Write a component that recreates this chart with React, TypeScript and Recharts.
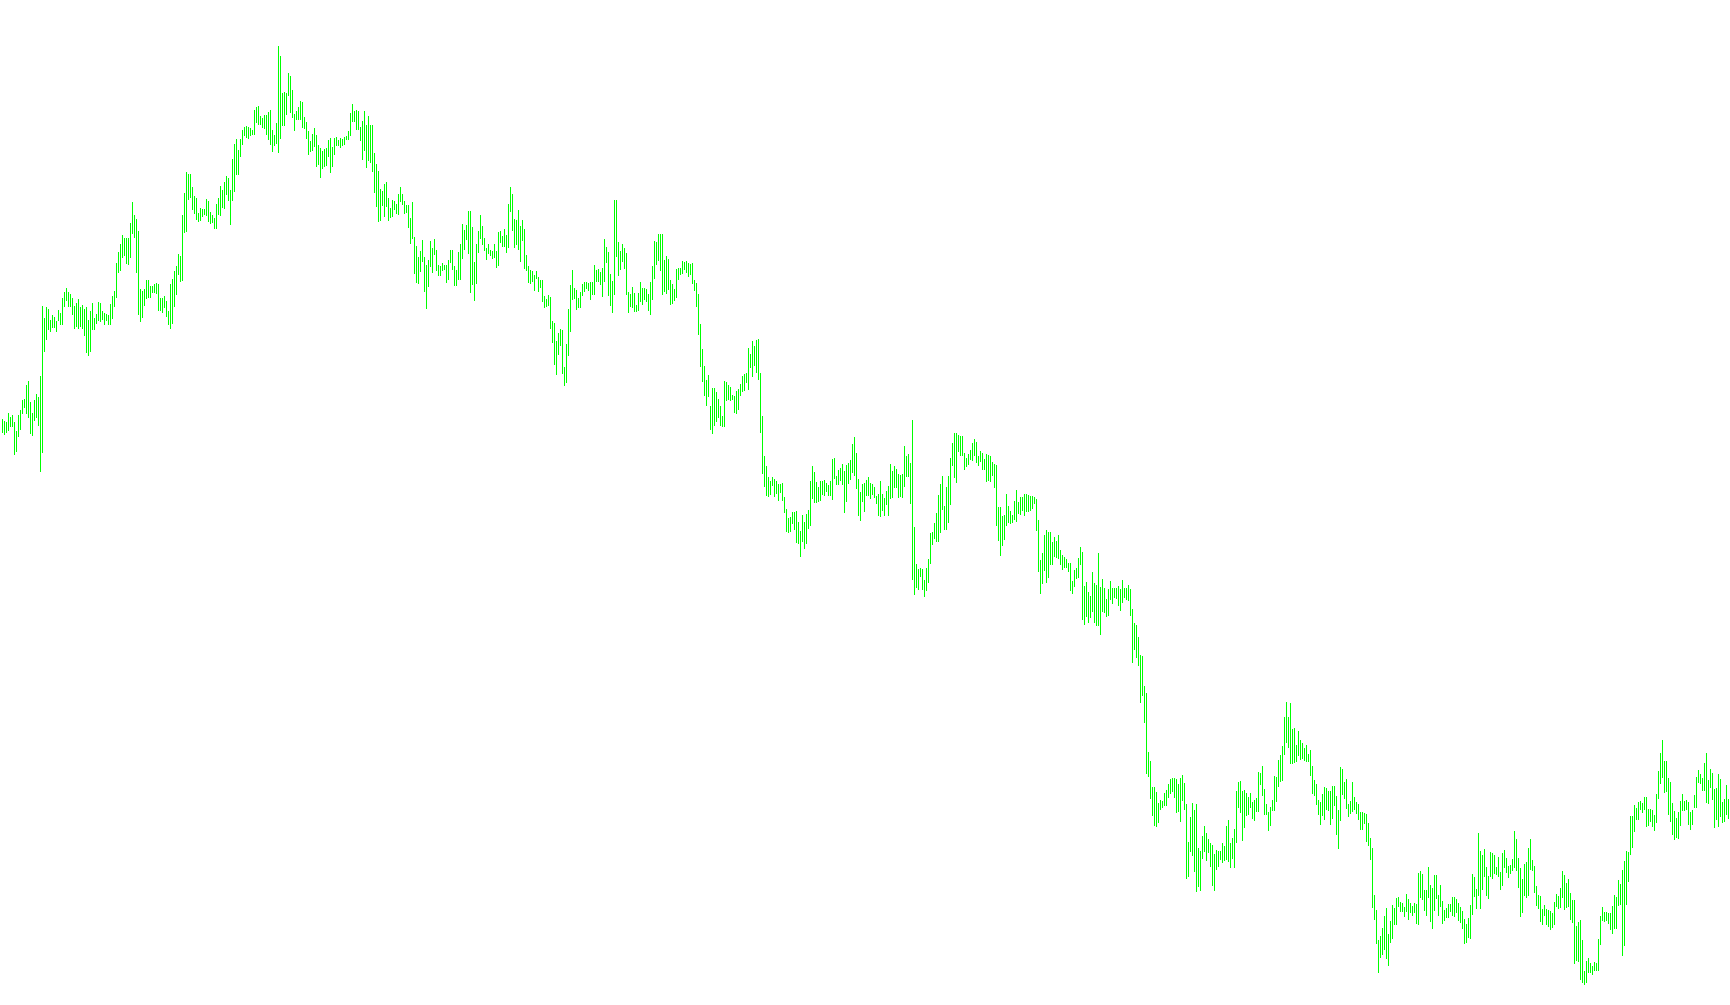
import { BarChart, Bar, XAxis, YAxis } from 'recharts';

// bar highs, read left to right (one bar every 2px)
const high = [
  586, 584, 583, 592, 588, 590, 583, 574, 590, 595, 605, 606, 620, 624, 603, 592, 605, 611, 608, 629,
  699, 687, 698, 696, 685, 690, 688, 684, 695, 692, 707, 713, 717, 713, 711, 707, 699, 702, 706, 698,
  700, 696, 698, 685, 694, 702, 687, 691, 703, 702, 694, 692, 691, 690, 701, 709, 714, 742, 753, 761,
  770, 767, 767, 767, 782, 803, 790, 786, 774, 716, 714, 716, 725, 725, 719, 719, 721, 722, 721, 707,
  707, 709, 704, 694, 721, 726, 734, 739, 751, 749, 790, 812, 833, 831, 831, 818, 809, 807, 792, 797,
  796, 796, 806, 804, 793, 790, 787, 801,
  807, 819, 815, 823, 829, 827, 815, 846, 861, 866, 855, 866, 875, 878, 879, 878, 877, 875, 895, 898,
  899, 889, 887, 890, 890, 893, 895, 875, 870, 882, 959, 949, 912, 913, 912, 932, 929, 915, 891, 894,
  898, 904, 903, 888, 883, 874, 864, 871, 877, 870, 860, 857, 854, 856, 857, 865, 867, 858, 867, 868,
  865, 867, 866, 868, 869, 874, 892, 901, 894, 895, 894, 878, 884, 894, 880, 889, 880, 880, 852, 841,
  834, 816, 814, 821, 823, 807, 797, 805, 804, 801, 811, 818, 811, 804, 800, 800, 787, 803, 768, 759,
  748, 754, 765, 748, 740, 745, 764, 757,
  766, 755, 740, 739, 742, 740, 740, 745, 755, 755, 739, 735, 753, 761, 781, 775, 780, 794, 794, 778,
  743, 761, 774, 790, 779, 767, 757, 761, 755, 754, 761, 754, 773, 774, 769, 776, 770, 801, 818, 811,
  786, 785, 795, 779, 785, 776, 750, 739, 735, 734, 730, 734, 728, 725, 725, 709, 706, 710, 708, 684,
  682, 664, 672, 676, 675, 638, 661, 696, 720, 735, 717, 715, 707, 713, 721, 723, 723, 722, 723, 723,
  740, 735, 736, 733, 737, 766, 758, 753, 731, 724, 805, 805, 763, 754, 761, 757, 752, 713, 711, 718,
  712, 700, 712, 723, 717, 717, 716, 711,
  723, 739, 764, 763, 771, 771, 771, 745, 749, 746, 725, 721, 716, 736, 737, 737, 744, 743, 744, 742,
  741, 742, 725, 722, 711, 681, 656, 639, 625, 630, 599, 617, 617, 613, 606, 599, 589, 624, 623, 620,
  618, 610, 609, 614, 616, 621, 629, 631, 632, 657, 651, 664, 659, 665, 666, 632, 589, 549, 539, 528,
  524, 528, 526, 524, 521, 521, 522, 508, 496, 487, 488, 493, 493, 494, 483, 474, 490, 483, 491, 495,
  524, 539, 533, 523, 518, 524, 524, 525, 522, 520, 524, 546, 547, 529, 535, 537, 541, 534, 540, 542,
  545, 561, 568, 552, 526, 513, 521, 522,
  525, 528, 522, 521, 518, 509, 511, 524, 511, 507, 514, 519, 541, 534, 539, 536, 531, 530, 531, 559,
  549, 551, 542, 585, 478, 441, 436, 437, 436, 425, 437, 446, 472, 473, 482, 492, 510, 521, 529, 499,
  518, 529, 547, 562, 572, 572, 570, 569, 569, 552, 547, 551, 555, 562, 566, 563, 549, 554, 552, 546,
  551, 550, 549, 543, 541, 540, 498, 498, 489, 490, 511, 499, 494, 490, 504, 515, 503, 508, 508, 511,
  511, 510, 509, 509, 508, 506, 485, 445, 452, 470, 475, 473, 473, 463, 468, 464, 470, 455, 450, 448,
  446, 442, 442, 424, 435, 437, 447, 458,
  453, 419, 423, 413, 409, 433, 422, 420, 452, 418, 426, 417, 406, 416, 424, 417, 417, 417, 419, 416,
  425, 417, 417, 420, 416, 396, 382, 380, 368, 350, 349, 319, 312, 253, 244, 218, 218, 213, 202, 205,
  204, 212, 215, 221, 226, 227, 227, 226, 221, 227, 230, 222, 201, 163, 188, 202, 195, 201, 157, 154,
  169, 179, 172, 166, 162, 160, 151, 155, 154, 154, 162, 159, 179, 185, 162, 167, 176, 214, 223, 224,
  214, 215, 212, 208, 212, 203, 205, 207, 233, 232, 239, 216, 201, 193, 198, 205, 229, 228, 245, 250,
  259, 288, 303, 288, 302, 276, 277, 260,
  274, 265, 262, 257, 260, 251, 255, 239, 225, 221, 205, 203, 211, 218, 217, 214, 214, 219, 219, 209,
  195, 238, 236, 223, 226, 201, 204, 223, 208, 203, 201, 193, 193, 192, 191, 182, 167, 157, 110, 95,
  65, 69, 77, 89, 97, 71, 84, 100, 97, 107, 108, 103, 102, 98, 111, 106, 102, 99, 102, 101,
  132, 134, 131, 115, 115, 138, 120, 117, 130, 130, 110, 120, 104, 95, 97, 101, 101, 108, 108, 106,
  102, 98, 94, 86, 81, 87, 100, 131, 128, 116, 172, 154, 150, 156, 138, 129, 153, 152, 150, 138,
  148, 133, 152, 155, 147, 139, 140, 146,
  174, 166, 147, 137, 126, 141, 143, 157, 166, 145, 139, 119, 110, 109, 96, 100, 96, 95, 94, 92,
  103, 111, 109, 117, 134, 130, 122, 126, 112, 105, 105, 79, 83, 85, 65, 34, 44, 47, 42, 39,
  43, 42, 66, 89, 98, 93, 93, 92, 92, 99, 110, 108, 125, 121, 135, 144, 154, 153, 189, 189,
  200, 197, 203, 204, 202, 208, 208, 196, 196, 195, 190, 211, 234, 252, 265, 244, 244, 227, 223, 202,
  194, 187, 193, 204, 211, 204, 205, 203, 193, 195, 210, 228, 235, 231, 227, 242, 252, 225, 236, 232,
  216, 217, 231, 226, 203, 206, 220, 206, 220,
];

// bar lows, same order
const low = [
  573, 571, 573, 575, 579, 579, 551, 554, 569, 576, 592, 598, 592, 588, 572, 570, 585, 588, 580, 534,
  553, 654, 666, 676, 674, 678, 678, 674, 685, 681, 681, 699, 705, 699, 699, 691, 677, 679, 677, 679,
  677, 670, 653, 650, 654, 676, 676, 682, 685, 684, 686, 681, 685, 681, 681, 687, 699, 708, 733, 735,
  748, 750, 742, 741, 748, 772, 768, 733, 691, 684, 688, 700, 707, 708, 708, 713, 713, 712, 695, 695,
  693, 698, 689, 681, 677, 682, 699, 711, 731, 724, 725, 773, 774, 806, 808, 796, 792, 786, 784, 785,
  789, 791, 790, 784, 782, 783, 777, 777,
  791, 790, 798, 797, 811, 805, 781, 805, 814, 831, 831, 849, 861, 870, 868, 867, 870, 871, 871, 883,
  881, 881, 878, 877, 871, 866, 861, 854, 860, 862, 853, 867, 880, 880, 891, 910, 893, 888, 875, 886,
  886, 886, 878, 877, 867, 851, 854, 855, 859, 839, 841, 828, 837, 839, 840, 849, 833, 839, 851, 860,
  860, 858, 860, 861, 866, 866, 870, 884, 884, 876, 876, 865, 846, 855, 838, 845, 843, 834, 813, 799,
  784, 785, 800, 789, 799, 785, 788, 789, 796, 792, 791, 804, 801, 792, 793, 778, 762, 767, 732, 723,
  722, 734, 744, 714, 697, 719, 739, 733,
  751, 735, 730, 730, 735, 736, 723, 726, 743, 736, 720, 720, 726, 726, 747, 756, 766, 752, 713, 721,
  705, 722, 753, 767, 761, 755, 746, 752, 750, 747, 748, 738, 740, 763, 759, 759, 753, 758, 794, 775,
  758, 761, 756, 744, 765, 737, 735, 723, 722, 724, 715, 727, 714, 718, 704, 698, 699, 700, 677, 663,
  641, 631, 651, 660, 632, 620, 623, 650, 674, 706, 707, 696, 698, 698, 710, 714, 717, 715, 706, 711,
  711, 724, 724, 721, 709, 724, 743, 710, 700, 693, 711, 749, 730, 736, 744, 737, 711, 693, 699, 698,
  694, 694, 695, 704, 701, 706, 704, 695,
  691, 706, 727, 741, 745, 735, 711, 714, 712, 716, 701, 702, 705, 708, 726, 731, 732, 736, 733, 729,
  731, 722, 715, 699, 671, 639, 624, 610, 600, 609, 576, 572, 580, 584, 588, 580, 579, 579, 605, 606,
  605, 606, 593, 592, 596, 610, 614, 615, 623, 616, 638, 629, 640, 633, 626, 573, 532, 519, 510, 509,
  511, 520, 509, 512, 505, 513, 505, 493, 474, 473, 474, 482, 476, 463, 462, 449, 464, 457, 462, 477,
  480, 507, 503, 503, 504, 505, 511, 510, 514, 510, 510, 506, 527, 521, 521, 525, 521, 493, 504, 522,
  526, 533, 530, 517, 490, 485, 504, 494,
  510, 510, 507, 511, 508, 502, 490, 489, 495, 490, 501, 490, 507, 508, 518, 518, 508, 509, 508, 519,
  529, 529, 502, 426, 411, 418, 416, 429, 416, 409, 415, 423, 442, 461, 467, 464, 464, 473, 496, 476,
  476, 483, 501, 540, 528, 523, 554, 550, 550, 536, 539, 541, 546, 545, 550, 543, 540, 544, 536, 536,
  524, 525, 524, 530, 518, 480, 465, 450, 460, 466, 480, 483, 482, 483, 486, 484, 492, 491, 495, 490,
  494, 494, 495, 497, 502, 475, 434, 412, 422, 435, 423, 428, 441, 441, 449, 448, 447, 441, 436, 438,
  438, 434, 415, 412, 419, 427, 428, 441,
  386, 381, 389, 383, 388, 394, 383, 380, 380, 371, 394, 393, 389, 390, 406, 402, 408, 407, 400, 395,
  403, 408, 406, 405, 390, 343, 356, 348, 340, 303, 310, 283, 232, 229, 207, 190, 180, 179, 183, 196,
  198, 200, 200, 208, 212, 214, 208, 193, 194, 184, 205, 196, 127, 129, 154, 150, 134, 114, 119, 115,
  147, 154, 145, 153, 139, 120, 115, 136, 139, 146, 143, 145, 146, 144, 138, 147, 138, 163, 198, 193,
  165, 178, 190, 191, 198, 187, 185, 194, 194, 221, 210, 191, 191, 175, 180, 195, 195, 204, 219, 224,
  225, 251, 263, 258, 242, 242, 243, 244,
  250, 246, 247, 245, 244, 244, 230, 212, 210, 201, 191, 181, 190, 186, 196, 195, 181, 187, 200, 171,
  157, 185, 211, 207, 197, 189, 192, 194, 196, 192, 186, 176, 176, 182, 164, 160, 146, 98, 86, 62,
  33, 48, 51, 56, 47, 40, 63, 67, 81, 81, 99, 94, 94, 89, 94, 86, 93, 90, 93, 82,
  81, 108, 106, 95, 90, 108, 84, 77, 95, 107, 90, 99, 82, 85, 88, 88, 94, 90, 89, 93,
  85, 83, 77, 62, 63, 68, 67, 91, 109, 97, 110, 97, 116, 129, 110, 107, 129, 127, 132, 131,
  129, 116, 120, 138, 133, 128, 132, 135,
  138, 135, 118, 89, 93, 110, 108, 110, 136, 135, 113, 100, 97, 84, 81, 90, 81, 79, 76, 78,
  81, 99, 97, 98, 108, 96, 98, 99, 86, 83, 42, 45, 44, 26, 23, 21, 23, 33, 33, 31,
  35, 35, 35, 61, 85, 84, 85, 82, 76, 72, 77, 77, 100, 101, 50, 60, 101, 124, 151, 158,
  174, 186, 186, 196, 193, 196, 179, 180, 184, 179, 175, 183, 207, 222, 228, 213, 214, 191, 184, 171,
  166, 168, 167, 180, 195, 195, 196, 181, 176, 181, 198, 198, 223, 222, 215, 215, 203, 202, 218, 206,
  178, 186, 179, 189, 183, 184, 191, 187, 191,
];

const data = high.map((h, i) => ({ bar: i, range: [low[i], h] }));

// 1px wide high-low stick, snapped to whole pixels
function Stick(props: any) {
  const { x, y, width, height, fill } = props;
  const cx = Math.round(x + width / 2);
  const top = Math.round(Math.min(y, y + height));
  const bottom = Math.round(Math.max(y, y + height));
  return (
    <rect
      x={cx}
      y={top}
      width={1}
      height={Math.max(1, bottom - top + 1)}
      fill={fill}
      shapeRendering="crispEdges"
    />
  );
}

export default function App() {
  return (
    <div style={{ position: 'absolute', left: 0, top: 0, width: 1730, height: 1005, background: '#ffffff' }}>
      <BarChart width={1730} height={1005} data={data} margin={{ top: 0, right: 0, bottom: 0, left: 0 }}>
        <XAxis dataKey="bar" hide />
        <YAxis hide domain={[0, 1005]} />
        <Bar dataKey="range" barSize={1} fill="#00ff00" shape={Stick} isAnimationActive={false} />
      </BarChart>
    </div>
  );
}
